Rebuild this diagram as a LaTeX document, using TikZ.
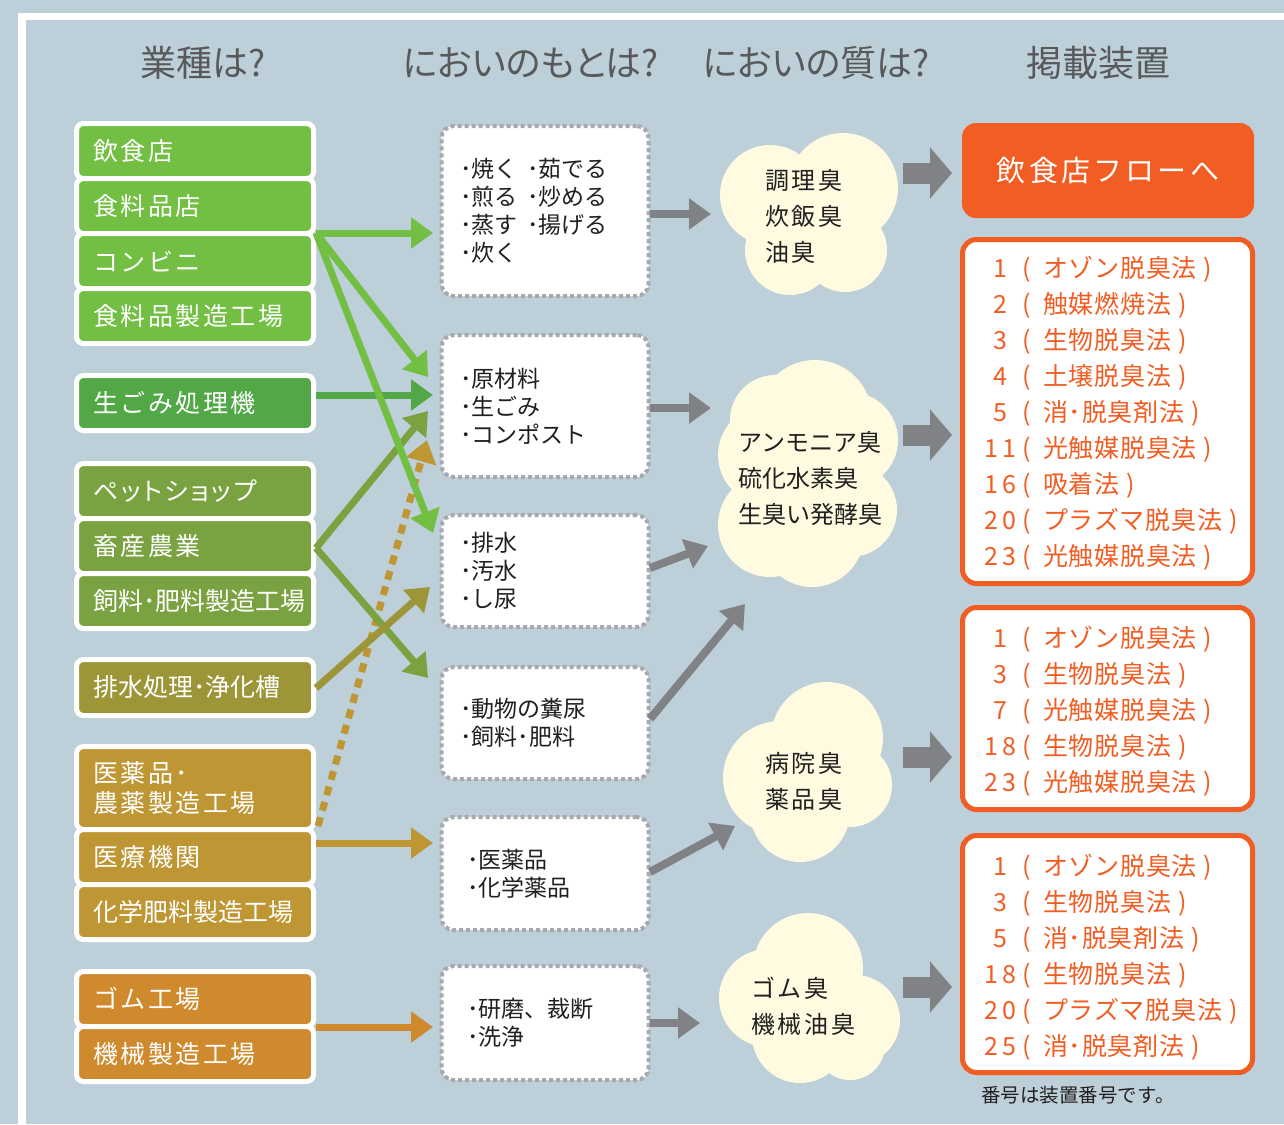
\documentclass[tikz,border=0pt]{standalone}
\usepackage{fontspec}
\usetikzlibrary{arrows.meta}
\newfontfamily\jp{Noto Sans CJK JP}
\newfontfamily\jpl[LetterSpace=10]{Noto Sans CJK JP}
\newfontfamily\jpc[LetterSpace=11]{Noto Sans CJK JP}
\newfontfamily\jpo[LetterSpace=3]{Noto Sans CJK JP}
\newfontfamily\jpn[LetterSpace=18]{Noto Sans CJK JP}
\newfontfamily\jph[RawFeature=+palt]{Noto Sans CJK JP}
\newfontfamily\jpk[LetterSpace=10,RawFeature=+palt]{Noto Sans CJK JP}
\newcommand\onum[2]{\makebox[37pt][c]{\jpn #1}\makebox[24pt][l]{\hspace{3pt}(}#2\hspace{7pt})}
\definecolor{bgc}{HTML}{BDCFD9}
\definecolor{gac}{HTML}{72BF44}
\definecolor{gbc}{HTML}{52A846}
\definecolor{gcc}{HTML}{7AA240}
\definecolor{gdc}{HTML}{9C9638}
\definecolor{gec}{HTML}{BE9633}
\definecolor{gfc}{HTML}{D08A2E}
\definecolor{orc}{HTML}{F15D22}
\definecolor{cldc}{HTML}{FEFBE1}
\definecolor{gryc}{HTML}{808285}
\definecolor{dotc}{HTML}{A7A9AC}
\definecolor{txtc}{HTML}{231F20}
\definecolor{hdc}{HTML}{58595B}
\begin{document}
\begin{tikzpicture}[x=1pt,y=-1pt,
  hd/.style={text=hdc, font=\jph\fontsize{36pt}{40pt}\selectfont, inner sep=0pt},
  lbox/.style={draw=white, line width=5pt, rounded corners=7pt, minimum width=237pt,
     text width=204pt, inner xsep=0pt, inner ysep=0pt, align=left, text=white,
     font=\jpl\fontsize{25pt}{30pt}\selectfont},
  lboxn/.style={lbox, font=\jp\fontsize{25pt}{30pt}\selectfont},
  mbox/.style={draw=dotc, line width=4pt, dash pattern=on 4pt off 3pt, fill=white,
     rounded corners=12pt, minimum width=207pt, text width=170pt, inner xsep=0pt,
     align=left, text=txtc, font=\jp\fontsize{23pt}{28pt}\selectfont},
  ctext/.style={anchor=west, inner sep=0pt, align=left, text=txtc,
     font=\jpc\fontsize{24pt}{36pt}\selectfont},
  obox/.style={draw=orc, line width=5pt, fill=white, rounded corners=14pt,
     minimum width=290pt},
  otext/.style={anchor=west, inner sep=0pt, align=left, text=orc,
     font=\jpo\fontsize{25pt}{36pt}\selectfont},
  larr/.style={line width=7pt, -{Triangle[length=22pt,width=30pt]}},
  garr/.style={gryc, line width=8pt, -{Triangle[length=22pt,width=30pt]}},
  barr/.style={gryc, line width=21pt, -{Triangle[length=22pt,width=50pt]}}
]
\useasboundingbox (0,0) rectangle (1284,1124);
\fill[bgc] (0,0) rectangle (1284,1124);
\draw[white,line width=7.5pt] (22,1140) -- (22,16.5) -- (1300,16.5);

% headers
\node[hd] (h1) at (203,63) {業種は?};
\node[hd] (h2) at (531,63) {においのもとは?};
\node[hd] (h3) at (816,63) {においの質は?};
\node[hd] (h4) at (1098,63) {掲載装置};

% clouds
\fill[cldc] (770,195) circle[radius=50] (843,188) circle[radius=55]
  (790,250) circle[radius=45] (845,250) circle[radius=42] (815,215) circle[radius=55];
\fill[cldc] (815,417) circle[radius=57] (775,420) circle[radius=45]
  (768,455) circle[radius=50] (770,525) circle[radius=52] (812,535) circle[radius=52]
  (850,440) circle[radius=48] (850,510) circle[radius=47] (810,475) circle[radius=65];
\fill[cldc] (827,738) circle[radius=56] (780,778) circle[radius=57]
  (800,812) circle[radius=50] (850,785) circle[radius=42] (815,775) circle[radius=55];
\fill[cldc] (808,968) circle[radius=55] (768,998) circle[radius=49]
  (800,1035) circle[radius=48] (855,1020) circle[radius=45] (850,1045) circle[radius=35]
  (810,1005) circle[radius=55];
\node[ctext] (c1) at (765,216) {調理臭\\炊飯臭\\油臭};
\node[ctext, font=\jp\fontsize{24pt}{36pt}\selectfont] (c2) at (738,478) {アンモニア臭\\硫化水素臭\\生臭い発酵臭};
\node[ctext] (c3) at (765,781) {病院臭\\薬品臭};
\node[ctext] (c4) at (751,1006) {ゴム臭\\機械油臭};

% left boxes
\node[lbox, fill=gac, minimum height=55pt] (l1) at (195,151) {飲食店};
\node[lbox, fill=gac, minimum height=55pt] (l2) at (195,206) {食料品店};
\node[lbox, fill=gac, minimum height=55pt] (l3) at (195,261) {コンビニ};
\node[lbox, fill=gac, minimum height=55pt] (l4) at (195,316) {食料品製造工場};
\node[lbox, fill=gbc, minimum height=55pt] (l5) at (195,403) {生ごみ処理機};
\node[lbox, fill=gcc, minimum height=55pt, font=\jpk\fontsize{25pt}{30pt}\selectfont] (l6) at (195,491) {ペットショップ};
\node[lbox, fill=gcc, minimum height=55pt] (l7) at (195,546) {畜産農業};
\node[lboxn, fill=gcc, minimum height=55pt] (l8) at (195,601) {飼料･肥料製造工場};
\node[lboxn, fill=gdc, minimum height=56pt] (l9) at (195,687.5) {排水処理･浄化槽};
\node[lbox, fill=gec, minimum height=83pt] (l10) at (195,788) {医薬品･\\農薬製造工場};
\node[lbox, fill=gec, minimum height=55pt] (l11) at (195,857) {医療機関};
\node[lboxn, fill=gec, minimum height=55pt] (l12) at (195,912) {化学肥料製造工場};
\node[lbox, fill=gfc, minimum height=55pt] (l13) at (195,999) {ゴム工場};
\node[lbox, fill=gfc, minimum height=55pt] (l14) at (195,1054) {機械製造工場};

% middle boxes
\node[mbox, minimum height=170pt] (m1) at (545,211)
  {\makebox[67pt][l]{･焼く}･茹でる\\\makebox[67pt][l]{･煎る}･炒める\\\makebox[67pt][l]{･蒸す}･揚げる\\･炊く};
\node[mbox, minimum height=142pt] (m2) at (545,406) {･原材料\\･生ごみ\\･コンポスト};
\node[mbox, minimum height=112pt] (m3) at (545,571) {･排水\\･汚水\\･し尿};
\node[mbox, minimum height=112pt] (m4) at (545,723) {･動物の糞尿\\･飼料･肥料};
\node[mbox, minimum height=113pt, text width=156pt] (m5) at (545,873.5) {･医薬品\\･化学薬品};
\node[mbox, minimum height=114pt, text width=156pt] (m6) at (545,1023) {･研磨、裁断\\･洗浄};

% right boxes
\node[fill=orc, rounded corners=14pt, minimum width=292pt, minimum height=95pt,
  text=white, font=\jpc\fontsize{29pt}{34pt}\selectfont] (r0) at (1108,170.5) {飲食店フローへ};
\node[obox, minimum height=344pt] (r1) at (1107.5,411.5) {};
\node[obox, minimum height=202pt] (r2) at (1107.5,708.5) {};
\node[obox, minimum height=237pt] (r3) at (1107.5,954) {};
\node[otext] (r1t) at (982,413) {\onum{1}{オゾン脱臭法}\\\onum{2}{触媒燃焼法}\\\onum{3}{生物脱臭法}\\\onum{4}{土壌脱臭法}\\\onum{5}{消･脱臭剤法}\\\onum{11}{光触媒脱臭法}\\\onum{16}{吸着法}\\\onum{20}{プラズマ脱臭法}\\\onum{23}{光触媒脱臭法}};
\node[otext] (r2t) at (982,711) {\onum{1}{オゾン脱臭法}\\\onum{3}{生物脱臭法}\\\onum{7}{光触媒脱臭法}\\\onum{18}{生物脱臭法}\\\onum{23}{光触媒脱臭法}};
\node[otext] (r3t) at (982,957) {\onum{1}{オゾン脱臭法}\\\onum{3}{生物脱臭法}\\\onum{5}{消･脱臭剤法}\\\onum{18}{生物脱臭法}\\\onum{20}{プラズマ脱臭法}\\\onum{25}{消･脱臭剤法}};
\node[text=txtc, font=\jp\fontsize{19.5pt}{22pt}\selectfont, inner sep=0pt] (note) at (1078,1095) {番号は装置番号です。};

% coordinates for connectors
\coordinate (s1) at (316,233);
\coordinate (t11) at (433,233);
\coordinate (t12) at (428,377);
\coordinate (t13) at (433,533);
\coordinate (s2) at (316,395);
\coordinate (t2) at (433,395);
\coordinate (s3) at (316,548);
\coordinate (t31) at (428,411);
\coordinate (t32) at (428,678);
\coordinate (s4) at (316,688);
\coordinate (t4) at (430,587);
\coordinate (s5d) at (318,826);
\coordinate (t5d) at (427,440);
\coordinate (s5) at (316,843);
\coordinate (t5) at (433,843);
\coordinate (s6) at (316,1027);
\coordinate (t6) at (433,1027);

\draw[larr, gec, dash pattern=on 9pt off 7pt] (s5d) -- (t5d);
\draw[larr, gac] (s1) -- (t11);
\draw[larr, gac] (s1) -- (t12);
\draw[larr, gbc] (s2) -- (t2);
\draw[larr, gcc] (s3) -- (t31);
\draw[larr, gcc] (s3) -- (t32);
\draw[larr, gdc] (s4) -- (t4);
\draw[larr, gac] (s1) -- (t13);
\draw[larr, gec] (s5) -- (t5);
\draw[larr, gfc] (s6) -- (t6);

% gray connectors
\coordinate (u1) at (650,214);  \coordinate (v1) at (711,214);
\coordinate (u2) at (650,408);  \coordinate (v2) at (711,408);
\coordinate (u3) at (650,568);  \coordinate (v3) at (708,546);
\coordinate (u4) at (650,719);  \coordinate (v4) at (745,604);
\coordinate (u5) at (650,872);  \coordinate (v5) at (735,826);
\coordinate (u6) at (650,1023); \coordinate (v6) at (700,1023);
\draw[garr] (u1) -- (v1);
\draw[garr] (u2) -- (v2);
\draw[garr] (u3) -- (v3);
\draw[garr] (u4) -- (v4);
\draw[garr] (u5) -- (v5);
\draw[garr] (u6) -- (v6);

\coordinate (p1) at (903,173); \coordinate (q1) at (952,173);
\coordinate (p2) at (903,435); \coordinate (q2) at (952,435);
\coordinate (p3) at (903,757); \coordinate (q3) at (952,757);
\coordinate (p4) at (903,987); \coordinate (q4) at (952,987);
\draw[barr] (p1) -- (q1);
\draw[barr] (p2) -- (q2);
\draw[barr] (p3) -- (q3);
\draw[barr] (p4) -- (q4);
\end{tikzpicture}
\end{document}
